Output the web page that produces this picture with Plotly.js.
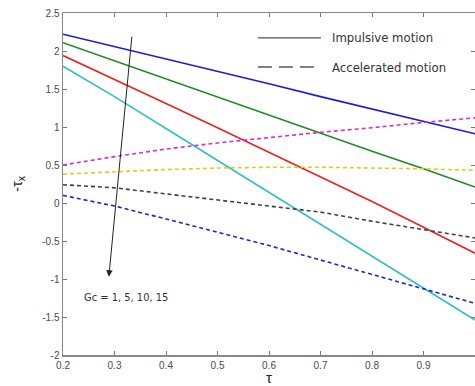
<!DOCTYPE html>
<html>
<head>
<meta charset="utf-8">
<script src="https://cdn.plot.ly/plotly-3.0.1.min.js"></script>
<style>html,body{margin:0;padding:0;background:#fff;}#chart{width:475px;height:386px;}</style>
</head>
<body>
<div id="chart"></div>
<script>
// tau values
const tau = [0.2, 0.3, 0.4, 0.5, 0.6, 0.7, 0.8, 0.9, 1.0];

// Impulsive motion (solid), Gc = 1, 5, 10, 15
const impGc1  = [2.22, 2.06, 1.90, 1.73, 1.57, 1.40, 1.24, 1.07, 0.91];
const impGc5  = [2.11, 1.87, 1.64, 1.40, 1.16, 0.92, 0.68, 0.45, 0.21];
const impGc10 = [1.94, 1.63, 1.31, 0.99, 0.67, 0.35, 0.02, -0.32, -0.66];
const impGc15 = [1.80, 1.40, 0.98, 0.56, 0.14, -0.28, -0.70, -1.12, -1.54];

// Accelerated motion (dashed), Gc = 1, 5, 10, 15
const accGc1  = [0.50, 0.61, 0.71, 0.79, 0.86, 0.93, 0.99, 1.06, 1.12];
const accGc5  = [0.38, 0.41, 0.44, 0.46, 0.47, 0.47, 0.46, 0.45, 0.43];
const accGc10 = [0.24, 0.20, 0.12, 0.04, -0.04, -0.12, -0.24, -0.35, -0.46];
const accGc15 = [0.10, -0.04, -0.21, -0.38, -0.56, -0.75, -0.94, -1.13, -1.32];

const xTicks = [0.2, 0.3, 0.4, 0.5, 0.6, 0.7, 0.8, 0.9, 1];
const xTickText = ["0.2", "0.3", "0.4", "0.5", "0.6", "0.7", "0.8", "0.9", "1"];
const yTicks = [-2, -1.5, -1, -0.5, 0, 0.5, 1, 1.5, 2, 2.5];
const yTickText = ["-2", "-1.5", "-1", "-0.5", "0", "0.5", "1", "1.5", "2", "2.5"];

const legendLabels = ["Impulsive motion", "Accelerated motion"];
const gcLabel = "Gc = 1, 5, 10, 15";

function line(y, color, dash) {
  return {x: tau, y: y, type: "scatter", mode: "lines", showlegend: false,
          line: {color: color, width: 1.6, dash: dash}, hoverinfo: "skip"};
}

const data = [
  line(impGc1, "#1c1cd6", "solid"),
  line(impGc5, "#1f8a1f", "solid"),
  line(impGc10, "#ee2020", "solid"),
  line(impGc15, "#2fc0c0", "solid"),
  line(accGc1, "#d030d0", "4px,3px"),
  line(accGc5, "#d8d020", "4px,3px"),
  line(accGc10, "#404040", "4px,3px"),
  line(accGc15, "#2424c8", "4px,3px")
];

const narrow = "Liberation Sans Narrow, DejaVu Sans Condensed, sans-serif";

const layout = {
  width: 475, height: 386,
  margin: {l: 63, r: 0, t: 13, b: 31, pad: 0},
  paper_bgcolor: "#fff", plot_bgcolor: "#fff",
  showlegend: false,
  font: {family: "Liberation Sans, Arial, sans-serif", size: 10, color: "#444"},
  xaxis: {
    range: [0.2, 1.0], tickvals: xTicks, ticktext: xTickText,
    ticks: "inside", ticklen: 4, tickcolor: "#777", tickwidth: 1,
    showline: true, linecolor: "#888", linewidth: 1.5, mirror: "ticks",
    showgrid: false, zeroline: false,
    tickfont: {size: 10, color: "#4a4a4a"},
    title: {text: "τ", font: {size: 15, color: "#222"}, standoff: 6}
  },
  yaxis: {
    range: [-2, 2.5], tickvals: yTicks, ticktext: yTickText,
    ticks: "inside", ticklen: 4, tickcolor: "#777", tickwidth: 1,
    showline: true, linecolor: "#888", linewidth: 1.5, mirror: "ticks",
    showgrid: false, zeroline: false,
    tickfont: {size: 10, color: "#4a4a4a"},
    title: {text: "-τ<sub>x</sub>", font: {size: 15, color: "#222"}, standoff: 16}
  },
  shapes: [
    {type: "line", xref: "paper", yref: "paper", x0: 0.473, x1: 0.626, y0: 0.927, y1: 0.927,
     line: {color: "#555", width: 1.2}},
    {type: "line", xref: "paper", yref: "paper", x0: 0.473, x1: 0.626, y0: 0.842, y1: 0.842,
     line: {color: "#555", width: 1.5, dash: "14px,7px"}}
  ],
  annotations: [
    {xref: "paper", yref: "paper", x: 0.648, y: 0.927, xanchor: "left", yanchor: "middle",
     text: legendLabels[0], showarrow: false, font: {family: narrow, size: 13, color: "#333"}},
    {xref: "paper", yref: "paper", x: 0.648, y: 0.842, xanchor: "left", yanchor: "middle",
     text: legendLabels[1], showarrow: false, font: {family: narrow, size: 13, color: "#333"}},
    {xref: "x", yref: "y", x: 0.289, y: -0.97, axref: "x", ayref: "y", ax: 0.334, ay: 2.21,
     showarrow: true, arrowhead: 2, arrowsize: 1.3, arrowwidth: 1, arrowcolor: "#222", text: ""},
    {xref: "x", yref: "y", x: 0.323, y: -1.24, xanchor: "center", yanchor: "middle",
     text: gcLabel, showarrow: false, font: {family: narrow, size: 11, color: "#333"}}
  ]
};

Plotly.newPlot("chart", data, layout, {staticPlot: true, displayModeBar: false});
</script>
</body>
</html>
